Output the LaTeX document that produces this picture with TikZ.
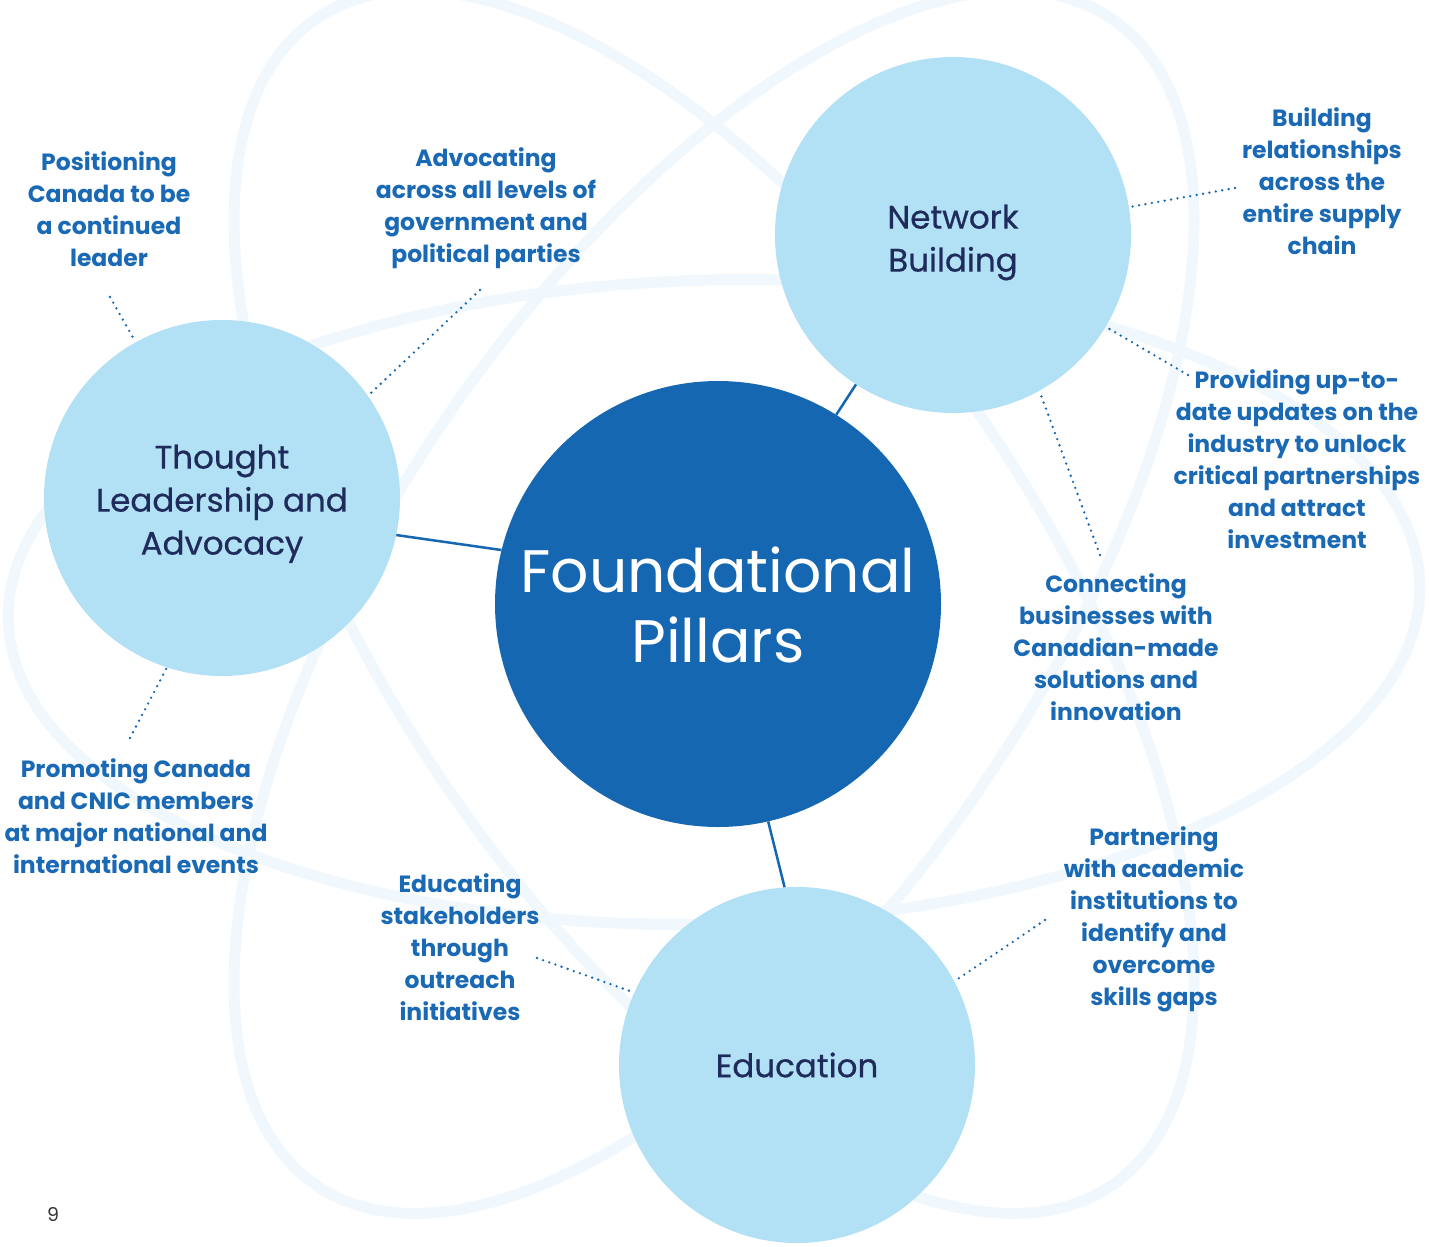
\documentclass[tikz,border=0pt]{standalone}
\usepackage{fontspec}
\setmainfont{Poppins}
\newfontfamily\pillfont{Poppins}[FakeBold=0.6]
\definecolor{orbitc}{HTML}{F1F8FD}
\definecolor{lightc}{HTML}{B2E0F4}
\definecolor{darkc}{HTML}{1567B2}
\definecolor{labelc}{HTML}{1A69B4}
\definecolor{navyc}{HTML}{1F2B5B}
\definecolor{pagec}{HTML}{333333}
% #1: extra height (twice the downward shift), #2: lines
\newcommand{\pilltext}[2]{\raisebox{0pt}[\dimexpr\height+#1\relax][\depth]{\begin{tabular}{@{}c@{}}#2\end{tabular}}}
\begin{document}
\begin{tikzpicture}[x=1pt,y=-1pt,
  orbit/.style={draw=orbitc,line width=11pt},
  bigc/.style={circle,fill=darkc,minimum size=446pt,inner sep=0pt,text=white,font=\fontsize{60}{70}\selectfont},
  pill/.style={circle,fill=lightc,minimum size=356pt,inner sep=0pt,text=navyc,font=\pillfont\fontsize{32.5}{43}\selectfont},
  lbl/.style={text=labelc,align=center,inner sep=0pt,font=\bfseries\fontsize{23.5}{32}\selectfont},
  link/.style={draw=darkc,line width=2.5pt},
  dotlink/.style={draw=darkc,line width=2.6pt,line cap=round,dash pattern=on 0pt off 6.5pt}
]
\useasboundingbox (0,0) rectangle (1429,1247);
\fill[white] (0,0) rectangle (1429,1247);
% background orbits
\begin{scope}[shift={(714,602)}]
  \draw[orbit,rotate=1.5] (0,0) ellipse [x radius=706pt, y radius=322pt];
  \draw[orbit,rotate=55.7] (0,0) ellipse [x radius=706pt, y radius=325pt];
  \draw[orbit,rotate=124.3] (0,0) ellipse [x radius=706pt, y radius=325pt];
\end{scope}
% circles
\node[bigc] (fp) at (718,604) {\pilltext{18pt}{Foundational\\Pillars}};
\node[pill] (tl) at (222,498) {\pilltext{10pt}{Thought\\Leadership and\\Advocacy}};
\node[pill] (nb) at (953,235) {\pilltext{13pt}{Network\\Building}};
\node[pill] (ed) at (797,1065) {Education};
% solid links
\draw[link] (tl.348.7) -- (fp.166.8);
\draw[link] (nb.237.2) -- (fp.58.2);
\draw[link] (ed.94.8) -- (fp.283.3);
% labels
\node[lbl] (l1) at (109,209) {Positioning\\Canada to be\\a continued\\leader};
\node[lbl] (l2) at (486,208) {Advocating\\across all levels of\\government and\\political parties};
\node[lbl] (l3) at (1322,181) {Building\\relationships\\across the\\entire supply\\chain};
\node[lbl] (l4) at (1297,459) {Providing up-to-\\date updates on the\\industry to unlock\\critical partnerships\\and attract\\investment};
\node[lbl] (l5) at (1116,647) {Connecting\\businesses with\\Canadian-made\\solutions and\\innovation};
\node[lbl] (l6) at (136,816) {Promoting Canada\\and CNIC members\\at major national and\\international events};
\node[lbl] (l7) at (460,947) {Educating\\stakeholders\\through\\outreach\\initiatives};
\node[lbl] (l8) at (1154,919) {Partnering\\with academic\\institutions to\\identify and\\overcome\\skills gaps};
% dotted leader ends
\coordinate (e1) at (110,297);
\coordinate (e2) at (480,290);
\coordinate (e3) at (1235,188);
\coordinate (e4) at (1188,375);
\coordinate (e5) at (1100,555);
\coordinate (e6) at (130,738);
\coordinate (e7) at (537,958);
\coordinate (e8) at (1045,920);
\draw[dotlink] (e1) -- (tl.119.4);
\draw[dotlink] (e2) -- (tl.35);
\draw[dotlink] (e6) -- (tl.252.6);
\draw[dotlink] (e3) -- (nb.9.9);
\draw[dotlink] (e4) -- (nb.329);
\draw[dotlink] (e5) -- (nb.299.4);
\draw[dotlink] (e7) -- (ed.156);
\draw[dotlink] (e8) -- (ed.28.4);
% page number
\node[text=pagec,font=\fontsize{19}{24}\selectfont,inner sep=0pt] (pg) at (53,1214) {9};
\end{tikzpicture}
\end{document}
